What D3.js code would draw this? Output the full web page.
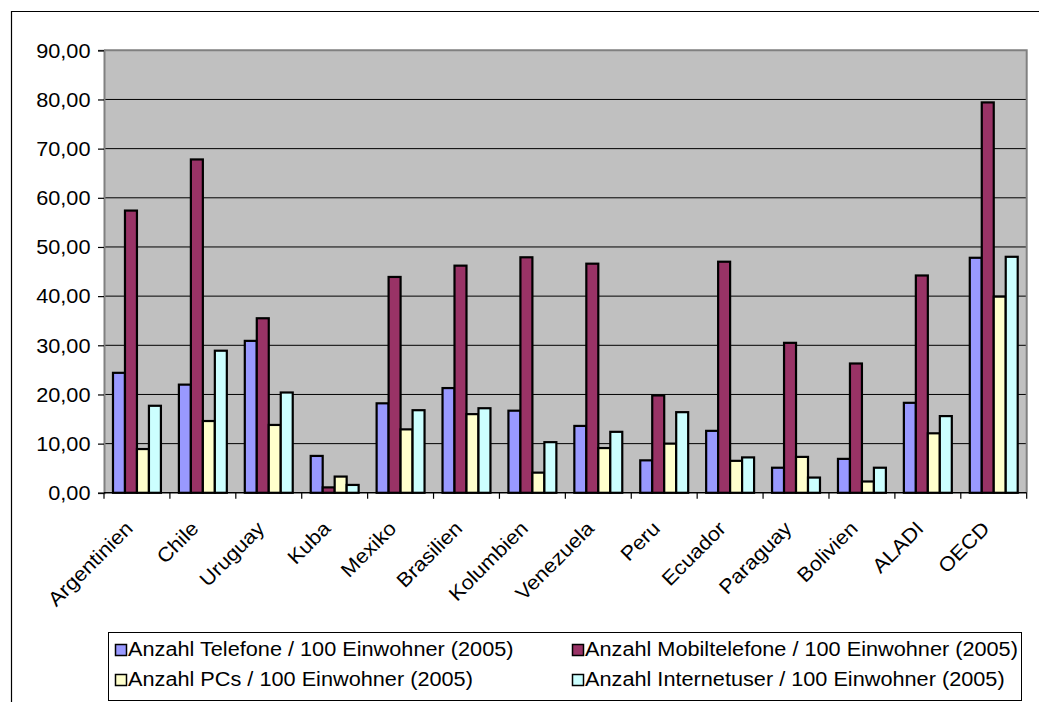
<!DOCTYPE html>
<html><head><meta charset="utf-8">
<script src="https://cdn.jsdelivr.net/npm/d3@7/dist/d3.min.js"></script>
<style>
html,body{margin:0;padding:0;background:#fff;}
svg{display:block;}
text{font-family:"Liberation Sans",Arial,sans-serif;fill:#000;}
</style></head>
<body>
<svg id="c" width="1039" height="702"></svg>
<script>
const categories = ["Argentinien","Chile","Uruguay","Kuba","Mexiko","Brasilien","Kolumbien","Venezuela","Peru","Ecuador","Paraguay","Bolivien","ALADI","OECD"];
const seriesNames = [
  "Anzahl Telefone / 100 Einwohner (2005)",
  "Anzahl Mobiltelefone / 100 Einwohner (2005)",
  "Anzahl PCs / 100 Einwohner (2005)",
  "Anzahl Internetuser / 100 Einwohner (2005)"
];
const telefone      = [24.4, 22.0, 30.9, 7.5, 18.2, 21.3, 16.7, 13.6, 6.6, 12.6, 5.1, 6.9, 18.3, 47.8];
const mobiltelefone = [57.4, 67.8, 35.5, 1.1, 43.9, 46.2, 47.9, 46.6, 19.8, 47.0, 30.5, 26.3, 44.2, 79.4];
const pcs           = [8.9, 14.6, 13.8, 3.3, 12.9, 16.0, 4.1, 9.1, 10.0, 6.5, 7.3, 2.3, 12.1, 39.9];
const internetuser  = [17.7, 28.9, 20.4, 1.6, 16.8, 17.2, 10.3, 12.4, 16.4, 7.2, 3.1, 5.1, 15.6, 48.0];
const yTicks = [0,10,20,30,40,50,60,70,80,90];
const colors = ["#9999FF","#993366","#FFFFCC","#CCFFFF"];

const seriesValues = [telefone, mobiltelefone, pcs, internetuser];
const svg = d3.select("#c");
const L = 104, R = 1026.7, T = 50.3, B = 492.8;
const fs = 20, sx = 1.085;

// outer frame
svg.append("path").attr("d","M11.5,702 L11.5,11.5 L1039,11.5").attr("fill","none").attr("stroke","#000").attr("stroke-width",1.2);

const x0 = d3.scaleBand().domain(categories).range([L,R]).paddingInner(0).paddingOuter(0);
const x1 = d3.scaleBand().domain(d3.range(4)).range([0,x0.bandwidth()]).paddingInner(0).paddingOuter(0.75);
const y = d3.scaleLinear().domain([0,90]).range([B,T]);

// plot background
svg.append("rect").attr("x",L).attr("y",T).attr("width",R-L).attr("height",B-T).attr("fill","#C0C0C0");

// gridlines
svg.append("g").selectAll("line").data(yTicks.filter(d=>d>0 && d<90)).join("line")
  .attr("x1",L).attr("x2",R).attr("y1",d=>y(d)).attr("y2",d=>y(d))
  .attr("stroke","#000").attr("stroke-width",1);

// plot border (top/right gray)
svg.append("path").attr("d",`M${L},${T} L${R},${T} L${R},${B}`).attr("fill","none").attr("stroke","#808080").attr("stroke-width",2);

// bars
const g = svg.append("g");
categories.forEach((c,i)=>{
  seriesValues.forEach((vals,s)=>{
    g.append("rect")
      .attr("x", x0(c)+x1(s))
      .attr("y", y(vals[i]))
      .attr("width", x1.bandwidth())
      .attr("height", y(0)-y(vals[i]))
      .attr("fill", colors[s]).attr("stroke","#000").attr("stroke-width",2.2);
  });
});

// y axis
const fmt = d => d3.format(".2f")(d).replace(".",",");
const yAxis = svg.append("g").attr("transform",`translate(${L},0)`)
  .call(d3.axisLeft(y).tickValues(yTicks).tickFormat("").tickSize(6));
yAxis.select(".domain").attr("stroke","#808080").attr("stroke-width",2);
yAxis.selectAll(".tick line").attr("stroke","#000").attr("stroke-width",1.2);
yAxis.selectAll(".tick text").remove();
svg.append("g").selectAll("text").data(yTicks).join("text")
  .attr("transform",d=>`translate(90.5,${y(d)+7.2}) scale(${sx},1)`)
  .attr("text-anchor","end").attr("font-size",fs).text(fmt);

// x axis
const tickPos = categories.map(c=>x0(c)).concat([R]);
const xg = svg.append("g");
xg.append("line").attr("x1",L).attr("x2",R).attr("y1",B).attr("y2",B).attr("stroke","#000").attr("stroke-width",1.5);
xg.selectAll("line.t").data(tickPos).join("line").attr("class","t")
  .attr("x1",d=>d).attr("x2",d=>d).attr("y1",B).attr("y2",B+6).attr("stroke","#000").attr("stroke-width",1.2);
xg.selectAll("text").data(categories).join("text")
  .attr("transform",d=>`translate(${x0(d)+x0.bandwidth()/2-3},${B+37}) rotate(-45) scale(${sx},1)`)
  .attr("text-anchor","end").attr("font-size",fs).text(d=>d);

// legend
const lg = svg.append("g");
lg.append("rect").attr("x",108.5).attr("y",632.5).attr("width",913).attr("height",68)
  .attr("fill","#fff").attr("stroke","#000").attr("stroke-width",1);
const legPos = [[115,644],[572,644],[115,674],[572,674]];
seriesNames.forEach((n,s)=>{
  const [lx,ly] = legPos[s];
  lg.append("rect").attr("x",lx+0.5).attr("y",ly+0.5).attr("width",11).attr("height",11)
    .attr("fill",colors[s]).attr("stroke","#000").attr("stroke-width",1.5);
  lg.append("text").attr("transform",`translate(${lx+13},${ly+12}) scale(${sx},1)`)
    .attr("font-size",fs).text(n);
});
</script>
</body></html>
